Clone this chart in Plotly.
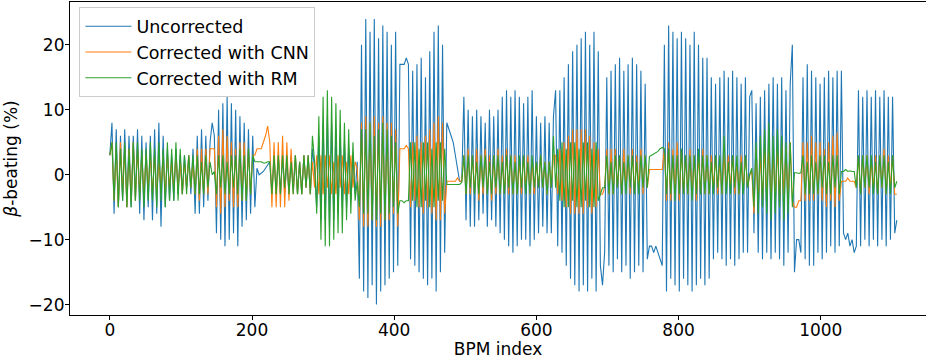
import plotly.graph_objects as go

# BPM index sampled every 3 BPMs (0 .. 1107)
bpm_index = list(range(0, 1108, 3))

uncorrected = [
    3, 8, -6, 7, -5, 6, -4, 7, -5, 6,
    -5, 6, -4, 7, -6, 6, -7, 5, -5, 6,
    -7, 7, -6, 8, -8, 6, -5, 4, -4, 3,
    -4, 4, -3, 3, -3, 3, -2, 3, -3, 4,
    -6, 6, -6, 7, -5, 6, -4, 5, 8, 6,
    -9, 10, -10, 11, -11, 12, -10, 11, -9, 10,
    -11, 9, -8, 8, -7, 7, -6, 6, -5, 1,
    0, 0.3, 0.5, 1, 1.5, 2, -3, 3, -3, 3,
    -3, 3, -3, 2, -3, 3, -2, 3, -3, 2,
    -3, 3, -2, 3, -3, 4, 1, -5, 6, -7,
    8, -7, 9, -8, 8, -7, 7, -6, 6, -5,
    5, -5, 4, -4, 3, -3, 2, -16, 20, -18,
    24, -19, 22, -17, 24, -20, 21, -18, 23, -17,
    22, -16, 20, -15, 22, -14, 17, 17, 17, 18,
    17, -13, 16, -14, 17, -15, 18, -16, 15, -17,
    19, -16, 22, -18, 23, -15, 20, -12, 8, 7,
    6, 5, 3, 1, -1, -1, 12, -7, 10, -8,
    9, -8, 10, -7, 9, -6, 8, -8, 10, -7,
    9, -8, 10, -9, 12, -10, 13, -11, 12, -12,
    13, -11, 12, -10, 11, -10, 12, -11, 13, -10,
    9, -9, 8, -8, 9, -9, 8, -9, 9, 13,
    -11, 13, -12, 15, -14, 17, -16, 19, -17, 20,
    -18, 21, -17, 22, -18, 20, -16, 22, -18, 19,
    -14, -17, -12, 15, -14, 16, -15, 17, -13, 18,
    -15, 16, -14, 17, -16, 18, -15, 17, -14, 16,
    -15, 14, -13, -11, -11, -12, -11, -12, -13, -14,
    20, -18, 23, -16, 22, -17, 21, -18, 22, -16,
    21, -17, 20, -18, 22, -17, 20, -16, 18, -17,
    18, -16, 15, -13, 14, -12, 15, -13, 16, -14,
    15, -13, 16, -14, 15, -13, 14, -12, 15, -12,
    12, 13, -9, 11, -12, 12, -13, 13, -12, 14,
    -13, 15, -12, 14, -13, 15, -14, 13, -12, 14,
    20, -15, -10, -10, -12, 15, -13, 17, -14, 16,
    -14, 15, -12, 14, -13, 15, -12, 16, -11, 15,
    -12, 16, -11, 16, -9, -10, -9, -11, -10, -12,
    -11, 13, -11, 12, -10, 13, -11, 12, -10, 13,
    -11, 12, -10, 13, -11, 12, -10, 12, -9, -7,
]

corrected_cnn = [
    3, 5, -4, 4, -5, 5, -3, 4, -5, 4,
    -4, 5, -4, 4, -3, 3, -3, 3, -2, 3,
    -3, 3, -3, 2, -2, 3, -3, 3, -2, 2,
    -2, 3, -2, 2, -3, 2, -2, 3, -2, 2,
    -3, 4, -4, 4, -3, 4, -3, 4, 4, 4,
    -5, 6, -6, 7, -5, 6, -4, 5, -5, 4,
    -5, 5, -4, 5, -4, 4, -3, 3, 3, 4,
    4, 4, 5, 6, 7.5, 5, -5, 5, -5, 5,
    -5, 6, -5, 5, -4, 4, -3, 3, -3, 2,
    -3, 3, -2, 3, -3, 2, -2, 3, -3, 3,
    -3, 3, -2, 3, -3, 2, -3, 3, -2, 3,
    -3, 2, -3, 3, -2, 2, 1, -7, 8, -8,
    9, -8, 8, -7, 9, -8, 8, -8, 9, -7,
    8, -7, 8, -6, 7, -8, 4, 4, 4, 4.5,
    4, -5, 5, -4, 6, -5, 5, -6, 6, -5,
    7, -6, 8, -7, 9, -7, 8, -6, -1, -1,
    -1, -1, -1, -0.5, -1, -1, 3, -3, 4, -3,
    3, -3, 4, -4, 3, -3, 4, -3, 3, -4,
    3, -3, 4, -3, 3, -3, 4, -3, 3, -3,
    3, -3, 2, -3, 3, -2, 3, -3, 2, -3,
    2, -2, 3, -2, 2, -3, 2, -2, 3, 3,
    -3, 4, -4, 5, -5, 6, -6, 7, -6, 7,
    -6, 7, -6, 7, -5, 6, -6, 5, -5, 4,
    -3, -3, -2, 4, -3, 4, -3, 4, -2, 3,
    -3, 4, -2, 3, -3, 4, -3, 3, -2, 4,
    -3, 3, -2, 0.8, 0.8, 0.8, 0.7, 0.8, 0.8, 0.8,
    4, -4, 5, -4, 4, -3, 5, -4, 4, -3,
    3, -3, 4, -3, 3, -4, 3, -3, 4, -3,
    3, -3, 3, -2, 3, -3, 2, -3, 3, -2,
    3, -2, 3, -3, 2, -3, 3, -2, 3, -2,
    0, 0.5, -6, 4, -4, 3, -4, 4, -3, 4,
    -4, 3, -3, 4, -4, 5, -3, 4, -4, 5,
    -4, -5, -5, -4, -4, 5, -4, 5, -4, 6,
    -4, 5, -3, 5, -4, 4, -5, 5, -4, 6,
    -5, 6.5, -4, -1, -1, -1, -0.5, -1, -1, -1,
    -2, 3, -3, 3, -2, 3, -3, 2, -2, 3,
    -3, 3, -2, 4, -3, 3, -2, 3, -3, -3,
]

corrected_rm = [
    3, 5, -4, 5, -5, 4, -4, 5, -5, 4,
    -5, 5, -4, 5, -4, 4, -5, 4, -4, 5,
    -4, 4, -5, 5, -4, 4, -5, 5, -4, 4,
    -4, 5, -4, 4, -3, 3, -3, 3, -2, 3,
    -3, 3, -3, 2, -3, 3, -2, 2, 0, 0.5,
    -3, 3, -2, 3, -3, 2, -3, 3, -2, 3,
    -3, 4, -4, 3, -4, 4, -3, 3, 2, 2,
    2, 2, 1.8, 1.8, 2, 2, -3, 3, -3, 3,
    -3, 3, -2, 3, -3, 2, -3, 3, -3, 2,
    -3, 3, -2, 3, -3, 6, 2, -6, 9, -10,
    12, -11, 13, -11, 12, -10, 11, -9, 10, -9,
    8, -7, 7, -6, 5, -4, -1, -5, 7, -6,
    7, -6, 8, -7, 6, -7, 7, -6, 8, -7,
    7, -6, 6, -5, 5, -6, -4, -4, -4.3, -4,
    -4, 5, -4, 5, -5, 4, -5, 5, -4, 5,
    -5, 4, -5, 5, -4, 5, -4, 4, -1.5, -1.5,
    -1.5, -1.5, -1.5, -1.6, -1.5, -1.2, 3, -3, 3, -2,
    3, -3, 2, -3, 3, -2, 3, -3, 2, -3,
    3, -2, 3, -3, 2, -3, 3, -2, 3, -3,
    2, -3, 3, -2, 3, -3, 2, -3, 3, -2,
    2, -2, 3, -2, 2, -3, 2, -2, 6, -2,
    4, -4, 5, -5, 4, -5, 5, -4, 5, -5,
    4, -5, 5, -4, 5, -5, 4, -5, 5, -4,
    -3, -2, -2, 3, -3, 2, -3, 3, -2, 3,
    -3, 2, -3, 3, -2, 3, -3, 2, -3, 3,
    -2, 3, -2, 2.8, 3, 3.2, 3.3, 3.6, 4, 4.2,
    4, -3, 4, -3, 3, -4, 3, -3, 4, -3,
    3, -3, 3, -4, 3, -3, 4, -3, 3, -3,
    3, -3, 2, -3, 3, -2, 3, -3, 6, -3,
    2, -3, 3, -2, 3, -3, 2, -3, 3, -2,
    0, 1, -5, 5, -6, 6, -5, 7, -6, 8,
    -7, 6, -6, 7, -5, 6, -7, 5, -6, 5,
    -5, 0.3, 0.3, 0.2, 0.3, 3, -3, 2, -3, 3,
    -3, 2, -3, 3, -2, 3, -3, 2, -3, 3,
    -2, 3, -3, 0.5, 0.5, 0.8, 0.5, 0.6, 0.5, 0.5,
    -2, 3, -3, 3, -2, 3, -2, 3, -3, 2,
    -3, 3, -2, 3, -3, 2, -3, 3, -2, -1,
]

series_names = ["Uncorrected", "Corrected with CNN", "Corrected with RM"]
series_colors = ["#1f77b4", "#ff7f0e", "#2ca02c"]
series_values = [uncorrected, corrected_cnn, corrected_rm]

x_ticks = [0, 200, 400, 600, 800, 1000]
y_ticks = [-20, -10, 0, 10, 20]

FONT = "DejaVu Sans"

fig = go.Figure()
for name, color, vals in zip(series_names, series_colors, series_values):
    fig.add_trace(go.Scatter(
        x=bpm_index[:len(vals)], y=vals, mode="lines", name=name,
        line=dict(color=color, width=1.1),
    ))

fig.update_layout(
    width=926, height=361,
    margin=dict(l=70, r=0, t=2, b=46, autoexpand=False),
    paper_bgcolor="white", plot_bgcolor="white",
    font=dict(family=FONT, size=17, color="black"),
    showlegend=True,
    legend=dict(
        x=0.011, y=0.983, xanchor="left", yanchor="top",
        bgcolor="rgba(255,255,255,0.8)", bordercolor="#cccccc", borderwidth=1,
        font=dict(family=FONT, size=17.5), itemwidth=46,
    ),
    xaxis=dict(
        range=[-56, 1148], tickvals=x_ticks, ticks="outside", ticklen=4,
        tickcolor="black", showline=True, linecolor="black", linewidth=1.2,
        mirror=True, showgrid=False, zeroline=False, automargin=False,
        ticklabelstandoff=-5,
        title=dict(text="BPM index", font=dict(size=17), standoff=0),
        tickfont=dict(size=17),
    ),
    yaxis=dict(
        range=[-21.6, 26.6], tickvals=y_ticks, ticks="outside", ticklen=4,
        tickcolor="black", showline=True, linecolor="black", linewidth=1.2,
        mirror=False, showgrid=False, zeroline=False, automargin=False,
        ticklabelstandoff=-3,
        title=dict(text="<i>β</i>-beating (%)", font=dict(size=17), standoff=6),
        tickfont=dict(size=17),
    ),
)

fig.write_html("out.html", post_script="document.body.style.margin='0';",
               config={"displayModeBar": False})
